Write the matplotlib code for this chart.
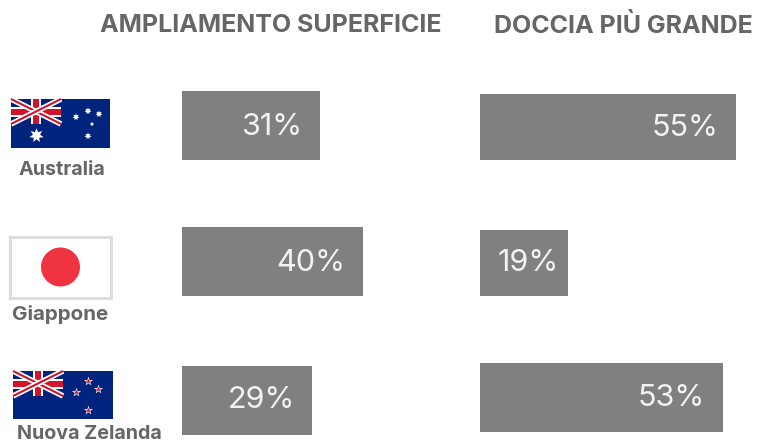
# -*- coding: utf-8 -*-
import matplotlib
matplotlib.use('Agg')
import matplotlib.pyplot as plt
from matplotlib.patches import Rectangle, Circle

plt.rcParams['font.family'] = ['Inter', 'DejaVu Sans']

countries = ['Australia', 'Giappone', 'Nuova Zelanda']
ampliamento = [31, 40, 29]
doccia = [55, 19, 53]
# lunghezze lette dalla figura, non del tutto proporzionali alle etichette
ampliamento_len = [30.6, 40, 28.8]
doccia_len = [55, 19, 52.2]
titles = ['AMPLIAMENTO SUPERFICIE', 'DOCCIA PIÙ GRANDE']

W, H = 758, 442
BAR = '#808080'
TXT = '#666666'
NAVY = '#00247d'
RED = '#cf142b'

fig = plt.figure(figsize=(W / 100, H / 100), dpi=100)


def px_axes(x0, x1):
    a = fig.add_axes([x0 / W, 0, (x1 - x0) / W, 1])
    a.set_ylim(H, 0)
    a.axis('off')
    return a


# barre: asse x in percentuale, asse y in pixel
left = px_axes(182, 363)
left.set_xlim(0, 40)
right = px_axes(480, 736)
right.set_xlim(0, 55)

left.barh([125.5, 261.5, 400.5], ampliamento_len, height=69, color=BAR)
right.barh([127, 263, 397.5], doccia_len, height=[66, 66, 69], color=BAR)

# overlay in pixel per titoli, etichette, bandiere e nomi
ov = fig.add_axes([0, 0, 1, 1])
ov.set_xlim(0, W)
ov.set_ylim(H, 0)
ov.axis('off')
ov.patch.set_alpha(0)

label_pos = [(302, 127), (345, 263), (295, 400), (718, 128), (559, 263), (705, 398)]
for v, (x, y) in zip(ampliamento + doccia, label_pos):
    ov.text(x, y, f'{v}%', ha='right', va='center', color='#f2f2f2', fontsize=22)

ov.text(271, 26, titles[0], ha='center', va='center', color=TXT, fontsize=18, fontweight='bold')
ov.text(623, 26, titles[1], ha='center', va='center', color=TXT, fontsize=18, fontweight='bold')

ov.text(62, 170, countries[0], ha='center', va='center', color=TXT, fontsize=14.2, fontweight='bold')
ov.text(60, 314, countries[1], ha='center', va='center', color=TXT, fontsize=14.8, fontweight='bold')
ov.text(89, 434, countries[2], ha='center', va='center', color=TXT, fontsize=14.2, fontweight='bold')


def union_jack(x, y, w, h):
    # quarto superiore sinistro della bandiera
    ov.add_patch(Rectangle((x, y), w, h, color=NAVY, lw=0))
    t = h * 0.2
    clip = Rectangle((x, y), w, h, transform=ov.transData)
    for (a, b), (c, d) in [((x, y), (x + w, y + h)), ((x, y + h), (x + w, y))]:
        ov.plot([a, c], [b, d], color='white', lw=4, solid_capstyle='butt', clip_path=clip)
        ov.plot([a, c], [b, d], color=RED, lw=1.5, solid_capstyle='butt', clip_path=clip)
    ov.add_patch(Rectangle((x + w / 2 - t, y), 2 * t, h, color='white', lw=0))
    ov.add_patch(Rectangle((x, y + h / 2 - t), w, 2 * t, color='white', lw=0))
    ov.add_patch(Rectangle((x + w / 2 - t * 0.6, y), 1.2 * t, h, color=RED, lw=0))
    ov.add_patch(Rectangle((x, y + h / 2 - t * 0.6), w, 1.2 * t, color=RED, lw=0))


# Australia
ov.add_patch(Rectangle((11, 99), 99, 49, color=NAVY, lw=0))
union_jack(11, 99, 50, 25)
ov.scatter([36], [135], marker=(7, 1), s=110, color='white', lw=0)
ov.scatter([76, 88, 99, 92, 88], [117, 111, 114, 124, 136], marker=(7, 1),
           s=[26, 26, 26, 10, 26], color='white', lw=0)

# Giappone
ov.add_patch(Rectangle((9.5, 237), 101.5, 61, fc='white', ec='#dddddd', lw=2.2))
ov.add_patch(Circle((60.5, 267), 19.5, color='#ef3340', lw=0))

# Nuova Zelanda
ov.add_patch(Rectangle((13, 371), 100, 48, color=NAVY, lw=0))
union_jack(13, 371, 50, 25)
star_x = [88, 98, 76, 88]
star_y = [381, 389, 392, 410]
ov.scatter(star_x, star_y, marker='*', s=48, color='white', lw=0)
ov.scatter(star_x, star_y, marker='*', s=18, color=RED, lw=0)

fig.savefig('out.png', dpi=100)
